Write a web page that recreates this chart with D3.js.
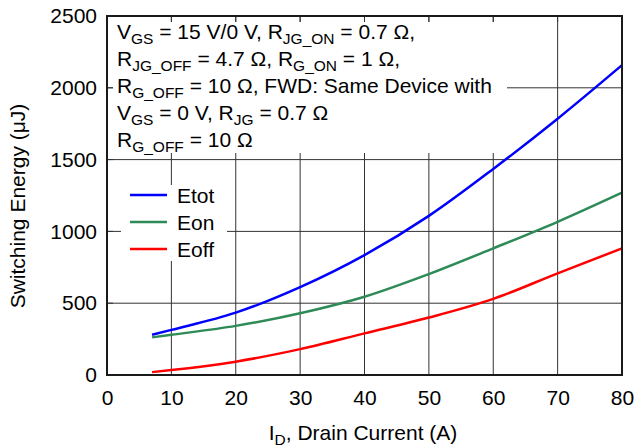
<!DOCTYPE html>
<html><head><meta charset="utf-8">
<script src="https://cdn.jsdelivr.net/npm/d3@7"></script>
<style>body{margin:0;background:#fff}svg{display:block;font-family:"Liberation Sans",Arial,sans-serif}</style>
</head><body><svg id="c" width="636" height="448"></svg>
<script>
const current = [7, 10, 20, 30, 40, 50, 60, 70, 80];
const etot = [280, 314, 434, 612, 835, 1108, 1435, 1785, 2158];
const eon  = [262, 280, 342, 430, 545, 703, 882, 1067, 1270];
const eoff = [20, 34, 93, 180, 290, 400, 530, 708, 882];
const seriesNames = ["Etot", "Eon", "Eoff"];
const seriesColors = ["#0000ff", "#2e8b57", "#ff0000"];
const xTicks = [0,10,20,30,40,50,60,70,80];
const yTicks = [0,500,1000,1500,2000,2500];

const svg = d3.select("#c");
const m = {l:107, r:622, t:16, b:375};
const x = d3.scaleLinear().domain([0,80]).range([m.l, m.r]);
const y = d3.scaleLinear().domain([0,2500]).range([m.b, m.t]);
const FS = 21, SUB = 15.5;

// grid
svg.append("g").selectAll("line").data(xTicks.slice(1,-1)).join("line")
  .attr("x1",d=>x(d)).attr("x2",d=>x(d)).attr("y1",m.t).attr("y2",m.b)
  .attr("stroke","#333").attr("stroke-width",1);
svg.append("g").selectAll("line").data(yTicks.slice(1,-1)).join("line")
  .attr("y1",d=>y(d)).attr("y2",d=>y(d)).attr("x1",m.l).attr("x2",m.r)
  .attr("stroke","#333").attr("stroke-width",1);

// white boxes
svg.append("rect").attr("x",113).attr("y",22).attr("width",394).attr("height",131).attr("fill","#fff");
svg.append("rect").attr("x",121).attr("y",185).attr("width",106).attr("height",76).attr("fill","#fff");

// inward ticks (on top of boxes)
svg.append("g").selectAll("line").data(xTicks.slice(1,-1)).join("line")
  .attr("x1",d=>x(d)).attr("x2",d=>x(d)).attr("y1",m.t).attr("y2",m.t+6).attr("stroke","#333");
svg.append("g").selectAll("line").data(yTicks.slice(1,-1)).join("line")
  .attr("y1",d=>y(d)).attr("y2",d=>y(d)).attr("x1",m.l).attr("x2",m.l+6).attr("stroke","#333");

// axes labels
svg.append("g").attr("transform",`translate(0,${m.b})`)
  .call(d3.axisBottom(x).tickValues(xTicks).tickSize(0).tickPadding(15).tickFormat(d3.format("d")))
  .call(g=>g.select(".domain").remove())
  .call(g=>g.selectAll("text").attr("font-size",FS).attr("fill","#000").attr("font-family","Liberation Sans, Arial"));
svg.append("g").attr("transform",`translate(${m.l},0)`)
  .call(d3.axisLeft(y).tickValues(yTicks).tickSize(0).tickPadding(10).tickFormat(d3.format("d")))
  .call(g=>g.select(".domain").remove())
  .call(g=>g.selectAll("text").attr("font-size",FS).attr("fill","#000").attr("font-family","Liberation Sans, Arial"));

// lines
const data = [etot, eon, eoff];
const line = d3.line().x((d,i)=>x(current[i])).y(d=>y(d)).curve(d3.curveMonotoneX);
data.forEach((s,k)=>{
  svg.append("path").attr("d",line(s)).attr("fill","none")
    .attr("stroke",seriesColors[k]).attr("stroke-width",2.5);
});

// frame
svg.append("rect").attr("x",m.l).attr("y",m.t).attr("width",m.r-m.l).attr("height",m.b-m.t)
  .attr("fill","none").attr("stroke","#1a1a1a").attr("stroke-width",2);

// legend
const lg = svg.append("g");
seriesNames.forEach((n,k)=>{
  const cy = 195 + k*27;
  lg.append("line").attr("x1",130).attr("x2",167).attr("y1",cy).attr("y2",cy)
    .attr("stroke",seriesColors[k]).attr("stroke-width",2.5);
  lg.append("text").attr("x",177).attr("y",cy+7.5).attr("font-size",FS).text(n);
});

// annotation
const ann = [
  [["V",""],["GS","s"],[" = 15 V/0 V, R",""],["JG_ON","s"],[" = 0.7 Ω,",""]],
  [["R",""],["JG_OFF","s"],[" = 4.7 Ω, R",""],["G_ON","s"],[" = 1 Ω,",""]],
  [["R",""],["G_OFF","s"],[" = 10 Ω, FWD: Same Device with",""]],
  [["V",""],["GS","s"],[" = 0 V, R",""],["JG","s"],[" = 0.7 Ω",""]],
  [["R",""],["G_OFF","s"],[" = 10 Ω",""]]
];
ann.forEach((parts,i)=>{
  const t = svg.append("text").attr("x",117).attr("y",38.5+i*27).attr("font-size",FS).attr("xml:space","preserve");
  let sub=false;
  parts.forEach(([s,k])=>{
    const ts = t.append("tspan").text(s);
    const isSub = k==="s";
    if(isSub) ts.attr("font-size",SUB);
    if(isSub && !sub){ts.attr("dy",5);sub=true;}
    else if(!isSub && sub){ts.attr("dy",-5);sub=false;}
  });
});

// axis titles
const xt = svg.append("text").attr("x",363).attr("y",440).attr("text-anchor","middle").attr("font-size",FS);
xt.append("tspan").text("I");
xt.append("tspan").text("D").attr("font-size",SUB).attr("dy",5);
xt.append("tspan").text(", Drain Current (A)").attr("dy",-5);
svg.append("text").attr("transform","translate(25,206) rotate(-90)").attr("text-anchor","middle")
  .attr("font-size",FS).text("Switching Energy (μJ)");
</script></body></html>
